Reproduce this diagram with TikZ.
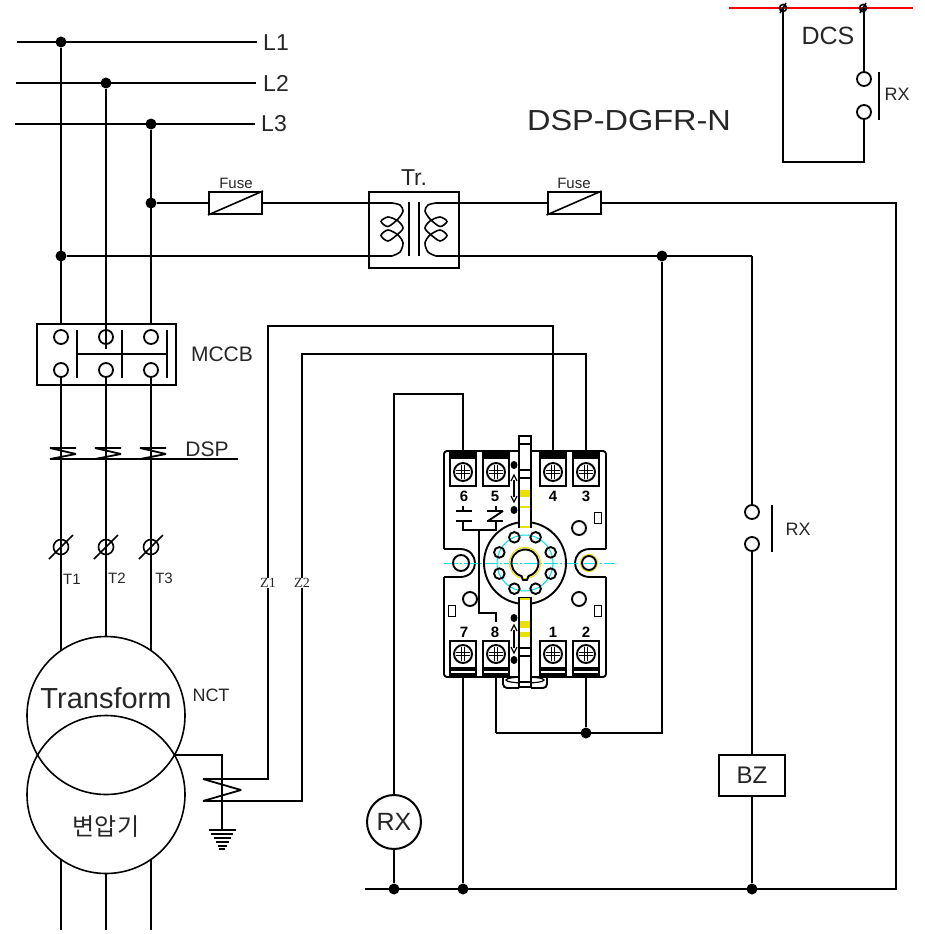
\documentclass[tikz,border=0pt]{standalone}
\usepackage{fontspec}
\setmainfont{Liberation Sans}
\newfontfamily\krfont{Noto Sans CJK KR}
\newfontfamily\zfont{Liberation Serif}
\definecolor{cyanln}{RGB}{0,225,225}
\definecolor{yellowln}{RGB}{235,225,0}
\tikzset{
  wire/.style={line width=2pt, line join=miter},
  zig/.style={line width=1.8pt, line join=bevel},
  thin wire/.style={line width=1.6pt},
  jn/.style={circle, fill=black, minimum size=11pt, inner sep=0pt},
  contact/.style={circle, draw, line width=1.8pt, fill=white, minimum size=14pt, inner sep=0pt},
  box/.style={rectangle, draw, line width=2pt, inner sep=0pt},
  lbl/.style={font=\fontsize{#1}{#1}\selectfont, inner sep=0pt, text=black!85},
  sock/.style={line width=1.9pt},
  numb/.style={font=\bfseries\fontsize{15}{15}\selectfont, inner sep=0pt},
}
\begin{document}
\begin{tikzpicture}[x=1pt, y=-1pt]
  \useasboundingbox (0,0) rectangle (924,934);
  % Barras L1 L2 L3
  \foreach \n/\x/\y/\s/\e in {1/61/42/17/257, 2/106/83/16/256, 3/151/124/15/255} {
    \coordinate (bs\n) at (\s,\y);
    \coordinate (be\n) at (\e,\y);
    \node[jn] (j\n) at (\x,\y) {};
    \draw[wire] (bs\n) -- (be\n);
  }
  \node[lbl=23] (l1) at (276,43) {L1};
  \node[lbl=23] (l2) at (276,83) {L2};
  \node[lbl=23] (l3) at (274,124) {L3};
  % MCCB
  \node[box, minimum width=139pt, minimum height=61pt] (mcb) at (106.5,354.5) {};
  \node[lbl=21] (mcbl) at (222,354) {MCCB};
  \foreach \n/\x in {1/61, 2/106, 3/151} {
    \draw[wire] (j\n) -- (j\n |- mcb.north);
    \node[contact] (mt\n) at (\x,337) {};
    \node[contact] (mb\n) at (\x,370) {};
    \draw[thin wire] (\x+16,330) -- (\x+16,378);
  }
  \draw[thin wire] (77,354) -- (167,354);
  \draw[thin wire] (106,324) -- (106,349);
  % Transform / NCT
  \node[circle, draw, line width=1.6pt, minimum size=158pt, inner sep=0pt] (xf1) at (106,715.5) {};
  \node[circle, draw, line width=1.6pt, minimum size=158pt, inner sep=0pt] (xf2) at (106,794.5) {};
  \node[lbl=29] (xft) at (106,698) {Transform};
  \node[lbl=21, font=\krfont\fontsize{24}{24}\selectfont] (xfk) at (106,827) {변압기};
  \node[lbl=18] (nct) at (211,695) {NCT};
  % Fases para baixo
  \foreach \n/\x/\d in {1/61/65, 2/106/79, 3/151/65} {
    \coordinate (xa\n) at (\x,715.5-\d);
    \coordinate (xb\n) at (\x,794.5+\d);
    \coordinate (xe\n) at (\x,930);
    \draw[wire] (mb\n) -- (xa\n);
    \draw[wire] (xb\n) -- (xe\n);
    % DSP
    \draw[zig] (\x+15,448) -- (\x-11,448) -- (\x+15,454) -- (\x-11,459);
    % T1 T2 T3
    \draw[thin wire] (\x,547) circle (7.5);
    \draw[thin wire] (\x-12,559) -- (\x+12,535);
  }
  \coordinate (dsa) at (50,459);
  \coordinate (dsb) at (238,459);
  \draw[wire] (dsa) -- (dsb);
  \node[lbl=21] (dsp) at (207,449) {DSP};
  \node[lbl=15] (t1) at (72,579) {T1};
  \node[lbl=15] (t2) at (117,578) {T2};
  \node[lbl=15] (t3) at (164,578) {T3};
  % Fusiveis e Tr.
  \node[jn] (j4) at (151,203) {};
  \node[jn] (j5) at (61,256) {};
  \node[box, minimum width=53pt, minimum height=22pt] (fu1) at (235.5,203) {};
  \node[box, minimum width=53pt, minimum height=22pt] (fu2) at (574,203) {};
  \draw[thin wire] (fu1.south west) -- (fu1.north east);
  \draw[thin wire] (fu2.south west) -- (fu2.north east);
  \node[lbl=15] (fu1l) at (236,183) {Fuse};
  \node[lbl=15] (fu2l) at (574,183) {Fuse};
  \node[box, minimum width=90pt, minimum height=76pt] (tr) at (413.5,230) {};
  \node[lbl=23] (trl) at (414,178) {Tr.};
  \coordinate (ca) at (392,203);
  \coordinate (cb) at (392,256);
  \coordinate (cc) at (436,203);
  \coordinate (cd) at (436,256);
  \draw[wire] (j4) -- (fu1.west);
  \draw[wire] (fu1.east) -- (ca);
  \draw[wire] (j5) -- (cb);
  \draw[wire] (cc) -- (fu2.west);
  \draw[thin wire] (409,202) -- (409,256);
  \draw[thin wire] (419,202) -- (419,256);
  \foreach \s in {0,1} {
    \begin{scope}[shift={(828*\s,0)}, xscale=1-2*\s]
      \draw[thin wire, smooth] plot coordinates {
        (392,203) (400,205) (403,211) (398,219) (388,226.5) (381,221.5) (388,217) (398,221)
        (403,228) (398,234) (388,241) (381,235.5) (388,230) (398,235) (403,243) (400,252) (392,256)
      };
    \end{scope}
  }
  % Lado direito
  \node[jn] (j6) at (662,256) {};
  \node[jn] (j7) at (586,733) {};
  \node[jn] (j8) at (752,889) {};
  \node[jn] (j9) at (463,889) {};
  \node[jn] (j10) at (394,889) {};
  \coordinate (ra) at (896,203);
  \coordinate (rb) at (896,889);
  \coordinate (rc) at (365,889);
  \coordinate (rd) at (752,256);
  \coordinate (re) at (662,733);
  \coordinate (rf) at (496,733);
  \draw[wire] (fu2.east) -- (ra) -- (rb) -- (rc);
  \draw[wire] (cd) -- (rd);
  \draw[wire] (j6) -- (re) -- (rf);
  \node[contact] (rx1) at (752,512) {};
  \node[contact] (rx2) at (752,544) {};
  \node[box, minimum width=66pt, minimum height=41pt, lbl=24] (bz) at (752,775.5) {BZ};
  \draw[wire] (rd) -- (rx1);
  \draw[wire] (rx2) -- (bz);
  \draw[wire] (bz) -- (j8);
  \draw[thin wire] (772,505) -- (772,552);
  \node[lbl=18] (rxl) at (798,529) {RX};
  \node[circle, draw, line width=2pt, minimum size=54pt, inner sep=0pt, lbl=25] (rxc) at (394,822) {RX};
  \draw[wire] (rxc) -- (j10);
  % DCS
  \coordinate (rl) at (729,8);
  \coordinate (rr) at (913,8);
  \draw[red, line width=1.8pt] (rl) -- (rr);
  \foreach \n/\x in {1/783, 2/863} {
    \coordinate (dc\n) at (\x,8);
    \draw[thin wire] (\x,8) circle (3.5);
    \draw[thin wire] (\x-3,13) -- (\x+3,3);
  }
  \node[contact] (rx3) at (864,79) {};
  \node[contact] (rx4) at (864,112) {};
  \coordinate (dca) at (783,162);
  \coordinate (dcb) at (864,162);
  \draw[wire] (dc1) -- (dca) -- (dcb) -- (rx4);
  \draw[wire] (dc2 -| rx3) -- (rx3);
  \draw[thin wire] (879,72) -- (879,120);
  \node[lbl=25] (dcs) at (828,36) {DCS};
  \node[lbl=18] (rxd) at (897,94) {RX};
  \node[lbl=29, xscale=1.12] (titl) at (629,121) {DSP-DGFR-N};
  % Base
  \draw[sock, rounded corners=3pt] (444,549) -- (444,451) -- (606,451) -- (606,549);
  \draw[sock] (444,549) -- (460,549) .. controls (470,549) and (475,556) .. (475,563)
    .. controls (475,570) and (470,577) .. (460,577) -- (444,577);
  \draw[sock] (606,549) -- (590,549) .. controls (580,549) and (575,556) .. (575,563)
    .. controls (575,570) and (580,577) .. (590,577) -- (606,577);
  \draw[sock, rounded corners=3pt] (444,577) -- (444,677) -- (606,677) -- (606,577);
  \draw[sock, rounded corners=4pt] (503,677) -- (503,688) -- (519,688);
  \draw[sock, rounded corners=4pt] (547,677) -- (547,688) -- (531,688);
  \draw[line width=1.2pt] (525,680) ellipse (19 and 3);
  \draw[cyanln, line width=1pt, dash pattern=on 14pt off 2pt on 2pt off 2pt] (444,563) -- (615,563);
  % Bornes
  \foreach \n/\x in {6/463, 5/496, 4/553, 3/586} {
    \node[box, fill=white, minimum width=26pt, minimum height=34pt] (s\n) at (\x,469) {};
    \fill (\x-13,452) rectangle (\x+13,459);
    \draw[sock] (\x,472) circle (9);
    \draw[line width=1pt] (\x-7,470.5) -- (\x+7,470.5) (\x-7,473.5) -- (\x+7,473.5)
      (\x-1.5,465) -- (\x-1.5,479) (\x+1.5,465) -- (\x+1.5,479);
  }
  \foreach \n/\x in {7/463, 8/496, 1/553, 2/586} {
    \node[box, fill=white, minimum width=26pt, minimum height=36pt] (s\n) at (\x,659) {};
    \fill (\x-13,667) rectangle (\x+13,671);
    \fill (\x-13,673) rectangle (\x+13,677);
    \draw[sock] (\x,654) circle (9);
    \draw[line width=1pt] (\x-7,652.5) -- (\x+7,652.5) (\x-7,655.5) -- (\x+7,655.5)
      (\x-1.5,647) -- (\x-1.5,661) (\x+1.5,647) -- (\x+1.5,661);
  }
  \foreach \n/\x in {6/464, 5/495, 4/553, 3/586}
    \node[numb] (n\n) at (\x,496) {\n};
  \foreach \n/\x in {7/464, 8/495, 1/553, 2/586}
    \node[numb] (n\n) at (\x,632) {\n};
  % Ligacoes aos bornes
  \coordinate (z1a) at (203,779);
  \coordinate (z1b) at (268,779);
  \coordinate (z1c) at (268,326);
  \coordinate (z1d) at (553,326);
  \coordinate (z2a) at (203,801);
  \coordinate (z2b) at (302,801);
  \coordinate (z2c) at (302,354);
  \coordinate (z2d) at (586,354);
  \coordinate (rxa) at (394,394);
  \coordinate (rxb) at (463,394);
  \draw[wire] (z1a) -- (z1b) -- (z1c) -- (z1d) -- (s4.north);
  \draw[wire] (z2a) -- (z2b) -- (z2c) -- (z2d) -- (s3.north);
  \draw[wire] (rxc) -- (rxa) -- (rxb) -- (s6.north);
  \draw[wire] (s7.south) -- (j9);
  \draw[wire] (s8.south) -- (rf);
  \draw[wire] (s2.south) -- (j7);
  \draw[zig] (z1a) -- (241,790) -- (z2a);
  \node[lbl=14, fill=white, font=\zfont\fontsize{14}{14}\selectfont] (z1) at (268,583) {Z1};
  \node[lbl=14, fill=white, font=\zfont\fontsize{14}{14}\selectfont] (z2) at (302,583) {Z2};
  % Terra
  \coordinate (ct) at (174,755);
  \coordinate (cu) at (222,755);
  \coordinate (gn) at (222,829);
  \draw[wire] (ct) -- (cu) -- (gn);
  \foreach \y/\w in {830/13.5, 834/11, 838/8.5, 842/6.5, 846/4.5, 849/3}
    \draw[thin wire] (222-\w,\y) -- (222+\w,\y);
  % Soquete central
  \draw[sock] (525,563) circle (41);
  \draw[cyanln, line width=1pt] (525,563) circle (28);
  \foreach \a in {22.5, 67.5, ..., 337.5}
    \draw[sock] (525,563)+(\a:27.8) circle (5.3);
  \draw[yellowln, line width=1pt] (525,563) circle (15.5);
  \draw[sock, line join=round] (525,563) ++(105:13.5) arc (105:435:13.5) -- (527,580) -- (523,580) -- cycle;
  \draw[sock] (461,563) circle (8);
  \draw[yellowln, line width=1pt] (589,563) circle (8.5);
  \draw[sock] (589,563) circle (7);
  \foreach \x/\y in {579/528, 470/599, 579/599}
    \draw[sock] (\x,\y) circle (7);
  \foreach \x/\y in {598/518, 598/611, 452/611}
    \draw[sock] (\x-3.5,\y-5.5) rectangle (\x+3.5,\y+5.5);
  % Travas
  \draw[sock, fill=white] (519,436) rectangle (531,527);
  \fill[yellowln] (520,490) rectangle (530,497);
  \fill[yellowln] (520,506) rectangle (530,508);
  \draw[sock] (519,444) -- (531,444) (519,470) -- (531,470) (519,478) -- (531,478);
  \draw[yellowln, line width=1.5pt] (520,527) -- (530,527);
  \draw[sock, fill=white] (519,598) rectangle (531,687);
  \fill[yellowln] (520,621) rectangle (530,628);
  \fill[yellowln] (520,632) rectangle (530,637);
  \draw[sock] (519,648) -- (531,648) (519,656) -- (531,656) (519,682) -- (531,682);
  \draw[yellowln, line width=1.5pt] (520,599) -- (530,599);
  \foreach \y/\e in {475/502, 625/653} {
    \draw[line width=1.3pt] (514,\y+5) -- (514,\e-5);
    \draw[line width=1.3pt] (511,\y+6) -- (514,\y) -- (517,\y+6);
    \draw[line width=1.3pt] (511,\e-6) -- (514,\e) -- (517,\e-6);
  }
  \foreach \y in {465, 510, 618, 660}
    \fill (514,\y) ellipse (3.5 and 4);
  % Contatos internos
  \draw[sock] (456,511) -- (472,511) (456,521) -- (472,521);
  \draw[sock] (463,506) -- (463,511) (463,521) -- (463,530) -- (496,530) -- (496,521);
  \draw[sock] (487,511) -- (503,511) (496,506) -- (496,511) (487,521) -- (503,521);
  \draw[sock] (488,521) -- (503,511);
  \draw[sock] (479,530) -- (479,613) -- (496,613) -- (496,622);
\end{tikzpicture}
\end{document}
